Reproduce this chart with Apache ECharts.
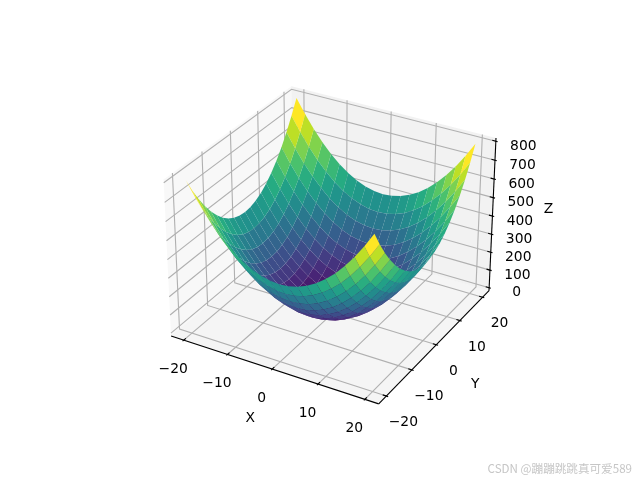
<!DOCTYPE html>
<html><head><meta charset="utf-8">
<style>html,body{margin:0;padding:0;background:#fff}#c{width:640px;height:480px}</style>
<script src="https://cdn.jsdelivr.net/npm/echarts@6/dist/echarts.min.js"></script>
</head><body><div id="c"></div>
<script>
// ---------- data ----------
const xValues = [-20,-18,-16,-14,-12,-10,-8,-6,-4,-2,0,2,4,6,8,10,12,14,16,18,20];
const yValues = [-20,-18,-16,-14,-12,-10,-8,-6,-4,-2,0,2,4,6,8,10,12,14,16,18,20];
const zRows = [
[800,724,656,596,544,500,464,436,416,404,400,404,416,436,464,500,544,596,656,724,800],
[724,648,580,520,468,424,388,360,340,328,324,328,340,360,388,424,468,520,580,648,724],
[656,580,512,452,400,356,320,292,272,260,256,260,272,292,320,356,400,452,512,580,656],
[596,520,452,392,340,296,260,232,212,200,196,200,212,232,260,296,340,392,452,520,596],
[544,468,400,340,288,244,208,180,160,148,144,148,160,180,208,244,288,340,400,468,544],
[500,424,356,296,244,200,164,136,116,104,100,104,116,136,164,200,244,296,356,424,500],
[464,388,320,260,208,164,128,100,80,68,64,68,80,100,128,164,208,260,320,388,464],
[436,360,292,232,180,136,100,72,52,40,36,40,52,72,100,136,180,232,292,360,436],
[416,340,272,212,160,116,80,52,32,20,16,20,32,52,80,116,160,212,272,340,416],
[404,328,260,200,148,104,68,40,20,8,4,8,20,40,68,104,148,200,260,328,404],
[400,324,256,196,144,100,64,36,16,4,0,4,16,36,64,100,144,196,256,324,400],
[404,328,260,200,148,104,68,40,20,8,4,8,20,40,68,104,148,200,260,328,404],
[416,340,272,212,160,116,80,52,32,20,16,20,32,52,80,116,160,212,272,340,416],
[436,360,292,232,180,136,100,72,52,40,36,40,52,72,100,136,180,232,292,360,436],
[464,388,320,260,208,164,128,100,80,68,64,68,80,100,128,164,208,260,320,388,464],
[500,424,356,296,244,200,164,136,116,104,100,104,116,136,164,200,244,296,356,424,500],
[544,468,400,340,288,244,208,180,160,148,144,148,160,180,208,244,288,340,400,468,544],
[596,520,452,392,340,296,260,232,212,200,196,200,212,232,260,296,340,392,452,520,596],
[656,580,512,452,400,356,320,292,272,260,256,260,272,292,320,356,400,452,512,580,656],
[724,648,580,520,468,424,388,360,340,328,324,328,340,360,388,424,468,520,580,648,724],
[800,724,656,596,544,500,464,436,416,404,400,404,416,436,464,500,544,596,656,724,800]
];
const xTicks = [-20,-10,0,10,20];
const yTicks = [-20,-10,0,10,20];
const zTicks = [0,100,200,300,400,500,600,700,800];
const axisNames = ['X','Y','Z'];
const watermark = 'CSDN @蹦蹦跳跳真可爱589';
const viridisStops = ['#440154','#482576','#414487','#355f8d','#2a788e','#21918c','#22a884','#44bf70','#7ad151','#bddf26','#fde725'];

// ---------- 3D view ----------
const limX = [-22, 22], limY = [-22, 22], limZ = [0, 800];
const padX = 44/48, padY = 44/48, padZ = 800/48;
const boxX = [limX[0]-padX, limX[1]+padX], boxY = [limY[0]-padY, limY[1]+padY], boxZ = [limZ[0]-padZ, limZ[1]+padZ];
const elev = 30*Math.PI/180, azim = -60*Math.PI/180, dist = 10;
const kAspect = 1.8294640721620434/Math.hypot(4,4,3);
const B = [4*kAspect,4*kAspect,3*kAspect];
const R = B.map(v=>v/2);
const dirW = [Math.cos(elev)*Math.cos(azim),Math.cos(elev)*Math.sin(azim),Math.sin(elev)];
const eye = [R[0]+dist*dirW[0],R[1]+dist*dirW[1],R[2]+dist*dirW[2]];
const cross=(a,b)=>[a[1]*b[2]-a[2]*b[1],a[2]*b[0]-a[0]*b[2],a[0]*b[1]-a[1]*b[0]];
const dot=(a,b)=>a[0]*b[0]+a[1]*b[1]+a[2]*b[2];
const uRaw = cross([0,0,1],dirW), uN = Math.hypot(...uRaw), U = uRaw.map(v=>v/uN), V = cross(dirW,U);
function project(x,y,z){
  const p=[(x-limX[0])/(limX[1]-limX[0])*B[0]-eye[0],(y-limY[0])/(limY[1]-limY[0])*B[1]-eye[1],(z-limZ[0])/(limZ[1]-limZ[0])*B[2]-eye[2]];
  const zv=dot(p,dirW);
  return [dot(p,U)/(-zv),dot(p,V)/(-zv),-zv];
}
// colour
function hex(c){return [1,3,5].map(i=>parseInt(c.substr(i,2),16));}
function viridis(t){
  t=Math.max(0,Math.min(1,t))*(viridisStops.length-1);
  const i=Math.min(Math.floor(t),viridisStops.length-2),f=t-i,a=hex(viridisStops[i]),b=hex(viridisStops[i+1]);
  return 'rgb('+a.map((v,k)=>Math.round(v+(b[k]-v)*f)).join(',')+')';
}
// ---------- surface cells, far ones first ----------
const cells=[];let zLo=Infinity,zHi=-Infinity;
for(let r=0;r<yValues.length-1;r++)for(let c=0;c<xValues.length-1;c++){
  const corners=[[c,r],[c+1,r],[c+1,r+1],[c,r+1]].map(([i,j])=>[xValues[i],yValues[j],zRows[j][i]]);
  const avg=corners.reduce((s,p)=>s+p[2],0)/4;
  const depth=corners.reduce((s,p)=>s+project(p[0],p[1],p[2])[2],0)/4;
  zLo=Math.min(zLo,avg);zHi=Math.max(zHi,avg);
  cells.push({corners,avg,depth});
}
cells.sort((a,b)=>b.depth-a.depth);

// ---------- helpers ----------
const TXT='DejaVu Sans';
const [x0,x1]=boxX,[y0,y1]=boxY,[z0,z1]=boxZ;
function polySeries(name,items,z){
  return {type:'custom',name,coordinateSystem:'cartesian2d',silent:true,z,clip:false,animation:false,
    data:items.map((_,i)=>[i,0]),encode:{x:0,y:1},
    renderItem(params,api){
      const it=items[api.value(0)];
      const pts=it.pts.map(p=>{const q=project(p[0],p[1],p[2]);return api.coord([q[0],q[1]]);});
      return {type:'polygon',shape:{points:pts},style:{fill:it.fill,stroke:null}};
    }};
}
function lineSeries(name,items,z){
  return {type:'custom',name,coordinateSystem:'cartesian2d',silent:true,z,clip:false,animation:false,
    data:items.map((_,i)=>[i,0]),encode:{x:0,y:1},
    renderItem(params,api){
      const it=items[api.value(0)];
      const pts=it.pts.map(p=>{const q=project(p[0],p[1],p[2]);return api.coord([q[0],q[1]]);});
      return {type:'polyline',shape:{points:pts},style:{fill:null,stroke:it.color,lineWidth:1.11}};
    }};
}
function textSeries(name,items,z){
  return {type:'custom',name,coordinateSystem:'cartesian2d',silent:true,z,clip:false,animation:false,
    data:items.map((_,i)=>[i,0]),encode:{x:0,y:1},
    renderItem(params,api){
      const it=items[api.value(0)];
      const q=project(it.at[0],it.at[1],it.at[2]);const c=api.coord([q[0],q[1]]);
      return {type:'text',style:{text:it.text,x:c[0]+it.off[0],y:c[1]+it.off[1],align:'center',verticalAlign:'middle',fill:'#000',font:'13.89px "'+TXT+'"'}};
    }};
}
const fmt=v=>v<0?'\u2212'+(-v):String(v);
// panes
const panes=[
 {pts:[[x0,y0,z0],[x0,y1,z0],[x0,y1,z1],[x0,y0,z1]],fill:'rgba(242,242,242,0.5)'},
 {pts:[[x0,y1,z0],[x1,y1,z0],[x1,y1,z1],[x0,y1,z1]],fill:'rgba(230,230,230,0.5)'},
 {pts:[[x0,y0,z0],[x1,y0,z0],[x1,y1,z0],[x0,y1,z0]],fill:'rgba(236,236,236,0.5)'}
];
// grid
const gridC='#b0b0b0';const grid=[];
xTicks.forEach(v=>grid.push({pts:[[v,y0,z0],[v,y1,z0],[v,y1,z1]],color:gridC}));
yTicks.forEach(v=>grid.push({pts:[[x1,v,z0],[x0,v,z0],[x0,v,z1]],color:gridC}));
zTicks.forEach(v=>grid.push({pts:[[x1,y1,v],[x0,y1,v],[x0,y0,v]],color:gridC}));
// axes + ticks
const dX=(x1-x0)/12,dY=(y1-y0)/12;
const axes=[
 {pts:[[x0,y0,z0],[x1,y0,z0]],color:'#000'},
 {pts:[[x1,y0,z0],[x1,y1,z0]],color:'#000'},
 {pts:[[x1,y1,z0],[x1,y1,z1]],color:'#000'}
];
xTicks.forEach(v=>axes.push({pts:[[v,y0-0.1*dY,z0],[v,y0+0.2*dY,z0]],color:'#000'}));
yTicks.forEach(v=>axes.push({pts:[[x1+0.1*dX,v,z0],[x1-0.2*dX,v,z0]],color:'#000'}));
zTicks.forEach(v=>axes.push({pts:[[x1+0.1*dX,y1,v],[x1-0.2*dX,y1,v]],color:'#000'}));
// text
const labels=[];
xTicks.forEach(v=>labels.push({text:fmt(v),at:[v,y0,z0],off:[-10.5,29]}));
yTicks.forEach(v=>labels.push({text:fmt(v),at:[x1,v,z0],off:[17,26.5]}));
zTicks.forEach(v=>labels.push({text:fmt(v),at:[x1,y1,v],off:[27.5,5]}));
labels.push({text:axisNames[0],at:[0,y0,z0],off:[-22,49]});
labels.push({text:axisNames[1],at:[x1,0,z0],off:[39,40]});
labels.push({text:axisNames[2],at:[x1,y1,400],off:[56,-7]});

const surface=cells.map(c=>({pts:c.corners,fill:viridis((c.avg-zLo)/(zHi-zLo))}));

const chart=echarts.init(document.getElementById('c'),null,{renderer:'canvas',width:640,height:480});
chart.setOption({
  animation:false,backgroundColor:'#fff',
  grid:{left:143.2,top:57.6,width:369.6,height:369.6},
  xAxis:{type:'value',min:-0.095,max:0.09,show:false,scale:true},
  yAxis:{type:'value',min:-0.095,max:0.09,show:false,scale:true},
  tooltip:{show:false},
  series:[
    polySeries('panes',panes,1),
    lineSeries('grid',grid,2),
    lineSeries('axes',axes,3),
    textSeries('labels',labels,4),
    polySeries('surface',surface,5)
  ],
  graphic:[{type:'text',right:8,top:463,z:10,silent:true,style:{text:watermark,fill:'#c6c6c6',font:'11.6px "Noto Sans CJK SC"'}}]
});
</script></body></html>
